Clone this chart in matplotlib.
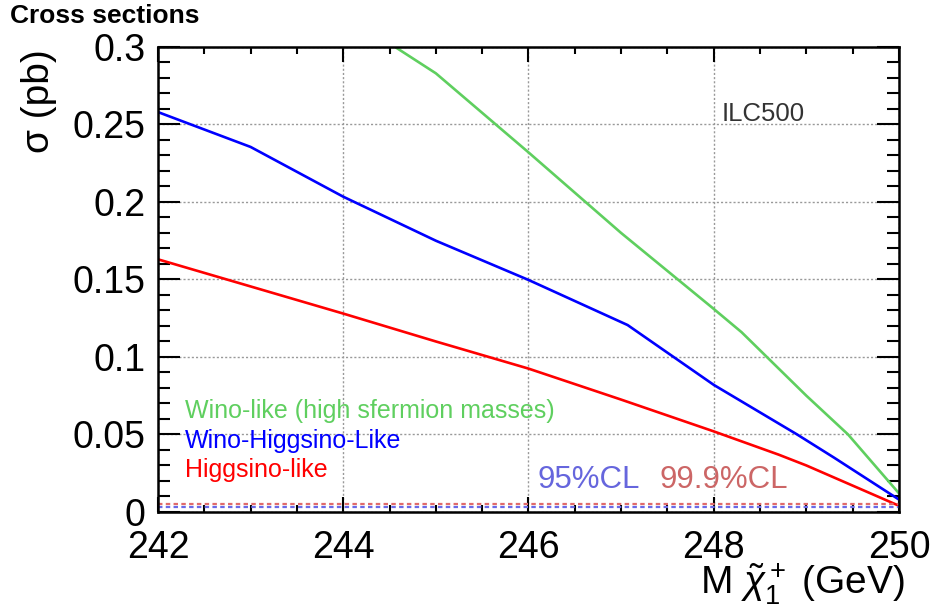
import matplotlib
matplotlib.use('Agg')
import matplotlib.pyplot as plt
import numpy as np

plt.rcParams['font.family'] = ['Liberation Sans', 'DejaVu Sans']
plt.rcParams['mathtext.fontset'] = 'custom'
plt.rcParams['mathtext.rm'] = 'Liberation Sans'
plt.rcParams['mathtext.it'] = 'Liberation Sans:italic'

# cross section curves (mass in GeV, sigma in pb)
wino_m = [244.56, 245.0, 246.0, 247.0, 248.0, 248.3, 249.0, 249.45, 250.0]
wino_s = [0.300, 0.283, 0.232, 0.180, 0.131, 0.116, 0.075, 0.050, 0.012]

winohig_m = [242.0, 243.0, 244.0, 245.0, 246.0, 247.07, 248.0, 248.9, 249.3, 250.0]
winohig_s = [0.258, 0.2355, 0.2034, 0.175, 0.1497, 0.1206, 0.082, 0.050, 0.035, 0.008]

hig_m = [242.0, 243.0, 244.0, 245.0, 246.0, 247.0, 248.0, 248.7, 249.0, 250.0]
hig_s = [0.163, 0.1455, 0.128, 0.110, 0.0925, 0.0725, 0.052, 0.037, 0.030, 0.004]

# exclusion limits (dashed)
cl95 = 0.003
cl999 = 0.005

fig = plt.figure(figsize=(9.32, 6.10), dpi=100)
ax = fig.add_axes([0.1695, 0.1607, 0.7951, 0.7623])

ax.plot(wino_m, wino_s, color='#5fcf5f', lw=1.9)
ax.plot(winohig_m, winohig_s, color='#0000ff', lw=1.9)
ax.plot(hig_m, hig_s, color='#ff0000', lw=1.9)
ax.axhline(cl999, color='#e06a6a', lw=1.6, ls=(0, (2, 1.5)))
ax.axhline(cl95, color='#6a6ae8', lw=1.6, ls=(0, (2, 1.5)))

ax.set_xlim(242, 250)
ax.set_ylim(0, 0.3)
ax.set_xticks(np.arange(242, 250.1, 2))
ax.set_xticks(np.arange(242, 250.1, 0.5), minor=True)
ax.set_yticks(np.arange(0, 0.301, 0.05))
ax.set_yticks(np.arange(0, 0.301, 0.01), minor=True)
ax.set_xticklabels(['242', '244', '246', '248', '250'])
ax.set_yticklabels(['0', '0.05', '0.1', '0.15', '0.2', '0.25', '0.3'])
ax.grid(True, which='major', color='#999999', lw=1.0, ls=(0, (1.5, 1.5)))

ax.tick_params(axis='both', which='both', direction='in', top=True, right=True,
               width=1.5, labelsize=27)
ax.tick_params(axis='x', which='major', length=11, pad=13)
ax.tick_params(axis='x', which='minor', length=5)
ax.tick_params(axis='y', which='major', length=16, pad=9)
ax.tick_params(axis='y', which='minor', length=8.5)
for s in ax.spines.values():
    s.set_linewidth(1.8)

ax.text(242.29, 0.0606, 'Wino-like (high sfermion masses)', color='#5fcf5f', fontsize=18)
ax.text(242.29, 0.041, 'Wino-Higgsino-Like', color='#0000ff', fontsize=18)
ax.text(242.29, 0.0225, 'Higgsino-like', color='#ff0000', fontsize=18)
ax.text(246.1, 0.0155, '95%CL', color='#6666dd', fontsize=22.5)
ax.text(247.41, 0.0155, '99.9%CL', color='#cc6666', fontsize=22.5)
ax.text(248.09, 0.252, 'ILC500', color='#333333', fontsize=18.5)

fig.text(0.011, 0.963, 'Cross sections', fontsize=19, fontweight='bold')
fig.text(0.042, 0.92, 'σ (pb)', rotation=90, ha='center', va='top', fontsize=28)
fig.text(0.971, 0.025, r'M $\tilde{\chi}_1^+$ (GeV)', ha='right', va='baseline', fontsize=28)

fig.savefig('out.png', dpi=100)
